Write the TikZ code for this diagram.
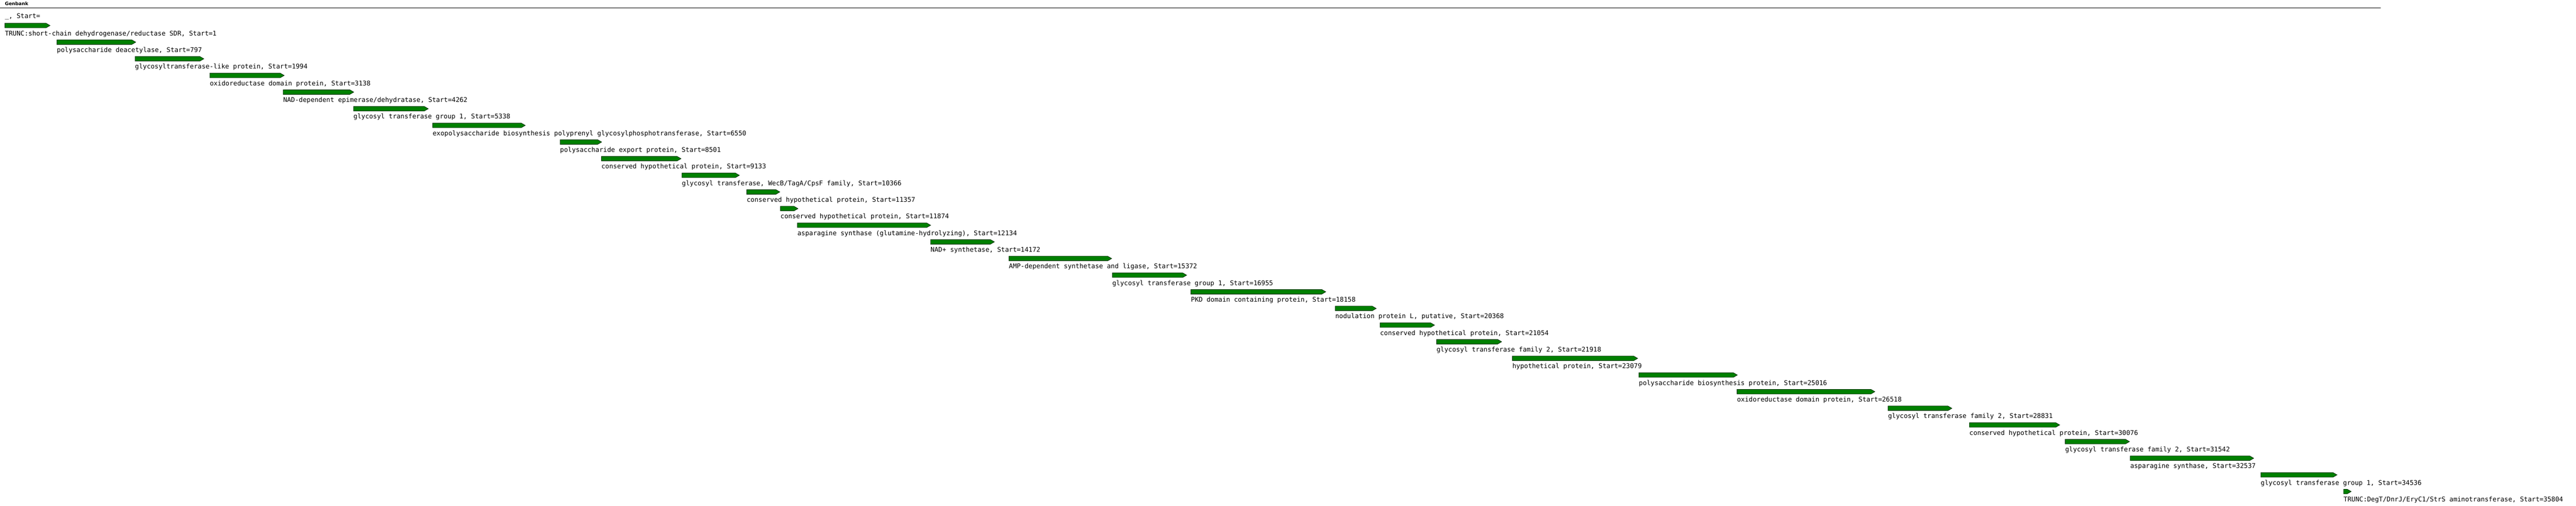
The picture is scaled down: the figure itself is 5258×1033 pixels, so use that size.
\documentclass[tikz,border=0pt]{standalone}
\usepackage{fontspec}
\newfontfamily\lblfont{DejaVu Sans Mono}
\newfontfamily\ttlfont{DejaVu Sans}
\definecolor{genefill}{RGB}{0,128,0}
\definecolor{geneline}{RGB}{0,45,0}
\newcommand\generow[4]{%
  \pgfmathsetmacro\xs{\the\dimexpr 10pt+0.13333pt*\numexpr#2-1\relax\relax}%
  \pgfmathsetmacro\yt{47.5+34*(#1-1)}%
  \pgfmathsetmacro\xm{max(\xs,#3-8)}%
  \pgfmathsetmacro\ym{\yt+4.65}%
  \pgfmathsetmacro\yb{\yt+9.3}%
  \pgfmathsetmacro\yl{\yt+25.3}%
  \draw[gene] (\xs,\yt) -- (\xm,\yt) -- (#3,\ym) -- (\xm,\yb) -- (\xs,\yb) -- cycle;
  \node[lbl] (l#1) at (\xs,\yl) {#4, Start=#2};%
}
\begin{document}
\begin{tikzpicture}[x=1pt,y=-1pt,
  lbl/.style={anchor=base west,inner sep=0pt,outer sep=0pt,font=\lblfont\fontsize{13.29}{16}\selectfont},
  gene/.style={fill=genefill,draw=geneline,line width=0.9pt,line join=miter},
  ttl/.style={anchor=base west,inner sep=0pt,outer sep=0pt,font=\ttlfont\bfseries\fontsize{9.6}{11}\selectfont}]
\useasboundingbox (0,0) rectangle (5258,1033);
\node[ttl] (title) at (10,11) {Genbank};
\coordinate (rl) at (0,16.5);
\coordinate (rr) at (4859,16.5);
\draw[line width=1.2pt] (rl) -- (rr);
\node[lbl] (l0) at (10,37.8) {\_, Start=};
\generow{1}{1}{102}{TRUNC:short-chain dehydrogenase/reductase SDR}
\generow{2}{797}{277}{polysaccharide deacetylase}
\generow{3}{1994}{416}{glycosyltransferase-like protein}
\generow{4}{3138}{580}{oxidoreductase domain protein}
\generow{5}{4262}{722}{NAD-dependent epimerase/dehydratase}
\generow{6}{5338}{874}{glycosyl transferase group 1}
\generow{7}{6550}{1072}{exopolysaccharide biosynthesis polyprenyl glycosylphosphotransferase}
\generow{8}{8501}{1228}{polysaccharide export protein}
\generow{9}{9133}{1390}{conserved hypothetical protein}
\generow{10}{10366}{1509}{glycosyl transferase, WecB/TagA/CpsF family}
\generow{11}{11357}{1591.7}{conserved hypothetical protein}
\generow{12}{11874}{1628.7}{conserved hypothetical protein}
\generow{13}{12134}{1899.5}{asparagine synthase (glutamine-hydrolyzing)}
\generow{14}{14172}{2029.6}{NAD+ synthetase}
\generow{15}{15372}{2269}{AMP-dependent synthetase and ligase}
\generow{16}{16955}{2422}{glycosyl transferase group 1}
\generow{17}{18158}{2706}{PKD domain containing protein}
\generow{18}{20368}{2809}{nodulation protein L, putative}
\generow{19}{21054}{2928}{conserved hypothetical protein}
\generow{20}{21918}{3065}{glycosyl transferase family 2}
\generow{21}{23079}{3342.6}{hypothetical protein}
\generow{22}{25016}{3546}{polysaccharide biosynthesis protein}
\generow{23}{26518}{3826.8}{oxidoreductase domain protein}
\generow{24}{28831}{3984}{glycosyl transferase family 2}
\generow{25}{30076}{4204}{conserved hypothetical protein}
\generow{26}{31542}{4346.5}{glycosyl transferase family 2}
\generow{27}{32537}{4600}{asparagine synthase}
\generow{28}{34536}{4770}{glycosyl transferase group 1}
\generow{29}{35804}{4799}{TRUNC:DegT/DnrJ/EryC1/StrS aminotransferase}
\end{tikzpicture}
\end{document}
